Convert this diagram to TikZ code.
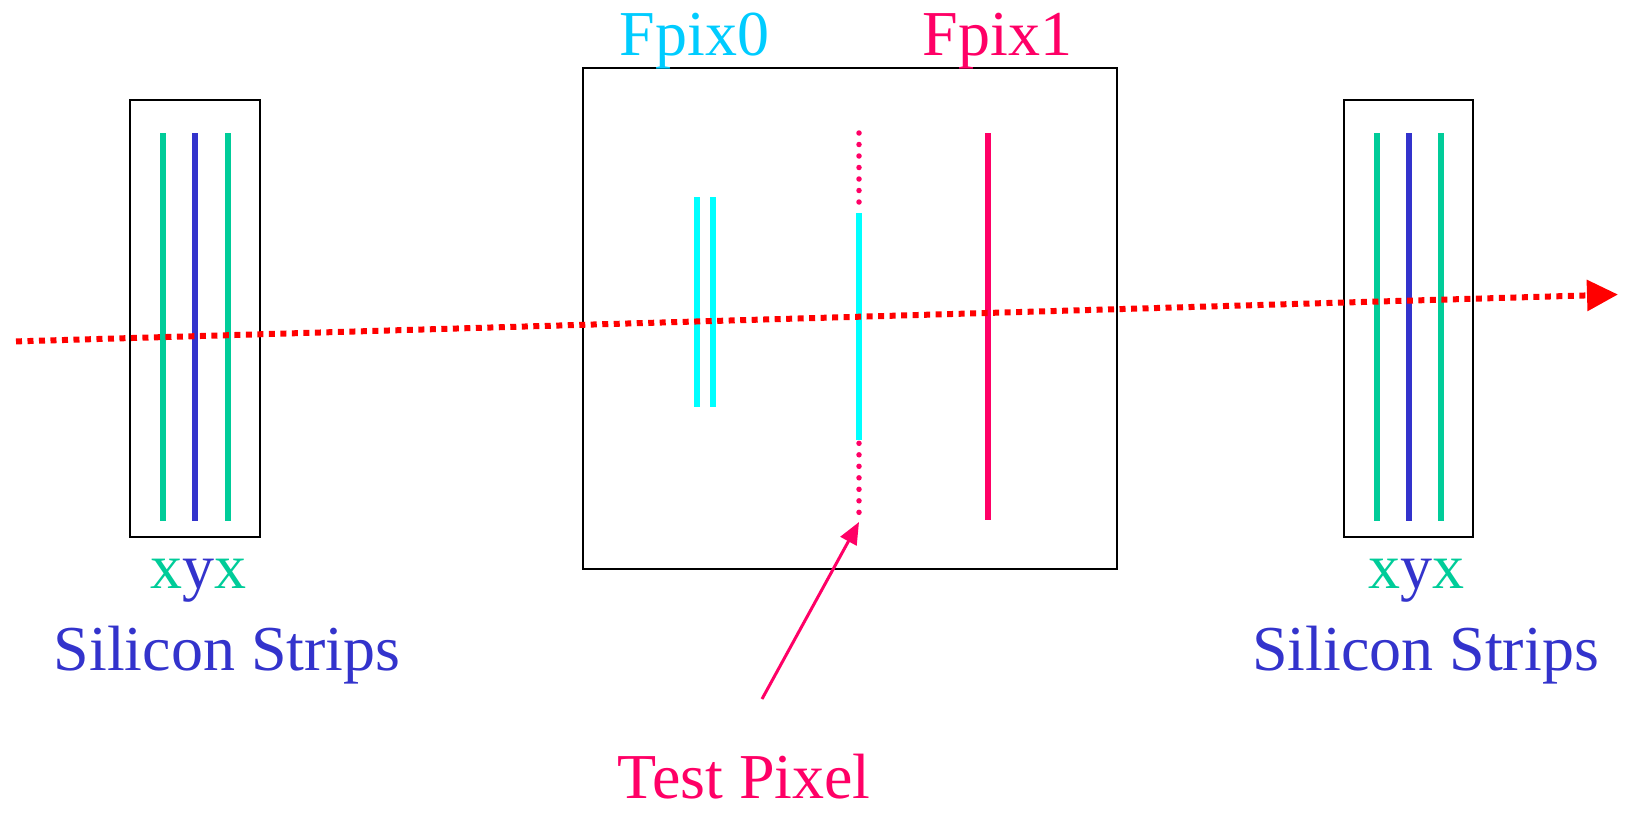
\documentclass[tikz,border=0pt]{standalone}
\usepackage{fontspec}
\setmainfont{Liberation Serif}
\usetikzlibrary{arrows.meta}
\definecolor{stripgreen}{RGB}{0,204,153}
\definecolor{stripblue}{RGB}{51,51,204}
\definecolor{sensorcyan}{RGB}{0,255,255}
\definecolor{fpixcyan}{RGB}{0,204,255}
\definecolor{pixmagenta}{RGB}{255,0,102}
\definecolor{beamred}{RGB}{255,0,0}
\begin{document}
\begin{tikzpicture}[x=1pt,y=-1pt,
  frame/.style={draw=black,line width=2pt,inner sep=0pt,fill=none},
  lbl/.style={anchor=base,inner sep=0pt,font=\fontsize{64}{64}\selectfont},
  strip/.style={line width=6pt},
  pixdots/.style={pixmagenta,line width=5.5pt,line cap=round,dash pattern=on 0pt off 11.5pt},
  beam/.style={beamred,line width=6pt,dash pattern=on 6pt off 5.5pt,-{Triangle[length=31pt,width=30pt]}},
  pointer/.style={pixmagenta,line width=3pt,-{Triangle[length=22pt,width=18pt]}}
  ]
\useasboundingbox (0,0) rectangle (1627,817);
\fill[white] (0,0) rectangle (1627,817);

% boxes
\node[frame,minimum width=130pt,minimum height=437pt] (lbox) at (195,318.5) {};
\node[frame,minimum width=129pt,minimum height=437pt] (rbox) at (1408.5,318.5) {};
\node[frame,minimum width=534pt,minimum height=501pt] (cbox) at (850,318.5) {};

% left strips
\draw[strip,stripgreen] (163,133) -- (163,521);
\draw[strip,stripblue]  (195,133) -- (195,521);
\draw[strip,stripgreen] (228,133) -- (228,521);
% right strips
\draw[strip,stripgreen] (1377,133) -- (1377,521);
\draw[strip,stripblue]  (1409,133) -- (1409,521);
\draw[strip,stripgreen] (1441,133) -- (1441,521);

% Fpix0 planes
\draw[strip,sensorcyan] (697,197) -- (697,407);
\draw[strip,sensorcyan] (713,197) -- (713,407);
% test pixel
\draw[pixdots] (859,133) -- (859,213);
\draw[pixdots] (859,443.3) -- (859,513.3);
\draw[strip,sensorcyan] (859,213) -- (859,440);
% Fpix1 plane
\draw[strip,pixmagenta] (988,133) -- (988,520);

% beam
\coordinate (bs) at (16,341.4);
\coordinate (be) at (1618,294.5);
\draw[beam] (bs) -- (be);

% labels
\node[lbl,fpixcyan] (fp0) at (694.5,55) {Fpix0};
\node[lbl,pixmagenta] (fp1) at (997.5,55) {Fpix1};
\node[lbl] (lxyx) at (198.5,588) {{\color{stripgreen}x}{\color{stripblue}y}{\color{stripgreen}x}};
\node[lbl,stripblue] (lsil) at (227,670) {Silicon Strips};
\node[lbl] (rxyx) at (1416,588) {{\color{stripgreen}x}{\color{stripblue}y}{\color{stripgreen}x}};
\node[lbl,stripblue] (rsil) at (1425.5,670) {Silicon Strips};
\node[lbl,pixmagenta] (tp) at (744,798) {Test Pixel};

% pointer
\coordinate (tpstart) at (762,699);
\coordinate (tpend) at (859,522);
\draw[pointer] (tpstart) -- (tpend);
\end{tikzpicture}
\end{document}
